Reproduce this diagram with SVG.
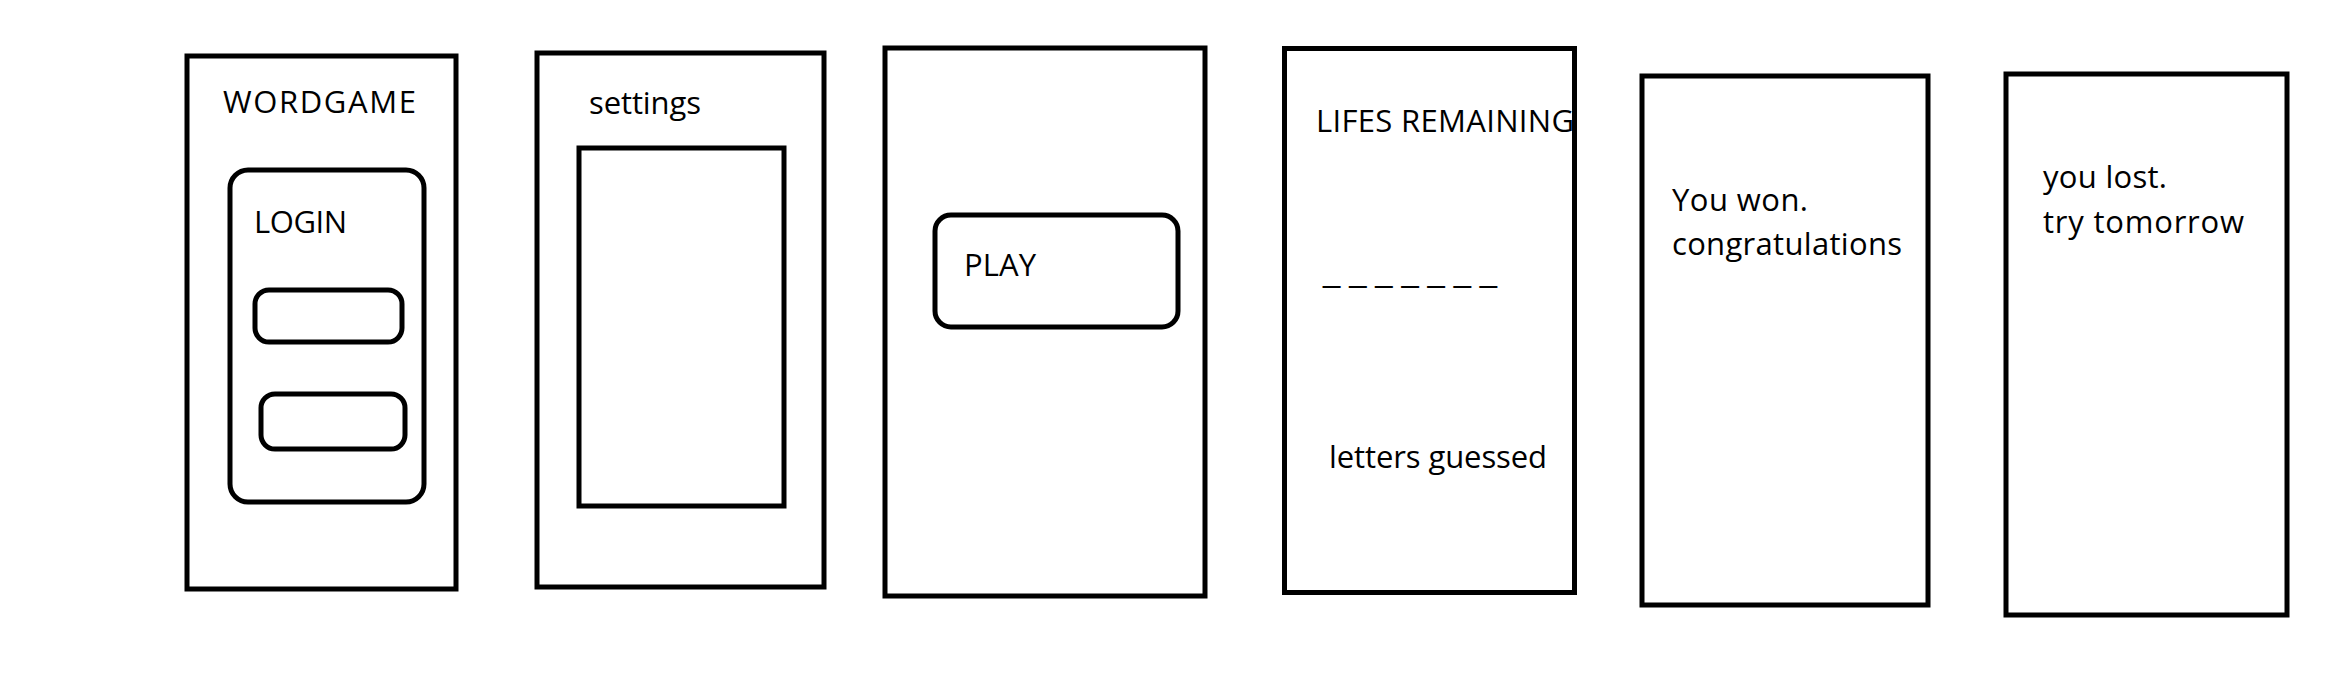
<svg xmlns="http://www.w3.org/2000/svg" width="2328" height="696" viewBox="0 0 2328 696">
<style>
  .frame { fill: none; stroke: #000; stroke-width: 5; }
  .box { fill: none; stroke: #000; stroke-width: 5; }
  .t { font-family: "Open Sans", Lato, "Liberation Sans", sans-serif; font-size: 31px; fill: #000; }
  .u { font-family: "Liberation Sans", Arial, sans-serif; font-size: 31px; fill: #000; }
</style>
<rect x="0" y="0" width="2328" height="696" fill="#fff"/>
<g id="connectors"/>
<g id="screen-login">
  <rect class="frame" x="187" y="56" width="269" height="533"/>
  <text class="t" x="223" y="113" textLength="193" lengthAdjust="spacing">WORDGAME</text>
  <rect class="box" x="230" y="170" width="194" height="332" rx="18" ry="18"/>
  <text class="t" x="254" y="233" textLength="93" lengthAdjust="spacing">LOGIN</text>
  <rect class="box" x="255" y="290" width="147" height="52" rx="14" ry="14"/>
  <rect class="box" x="261" y="394" width="144" height="55" rx="14" ry="14"/>
</g>
<g id="screen-settings">
  <rect class="frame" x="537" y="53" width="287" height="534"/>
  <text class="t" x="589" y="114" textLength="112" lengthAdjust="spacing">settings</text>
  <rect class="box" x="579" y="148" width="205" height="358"/>
</g>
<g id="screen-play">
  <rect class="frame" x="885" y="48" width="320" height="548"/>
  <rect class="box" x="935" y="215" width="243" height="112" rx="16" ry="16"/>
  <text class="t" x="964" y="276" textLength="72" lengthAdjust="spacing">PLAY</text>
</g>
<g id="screen-game">
  <text class="t" x="1316" y="132" textLength="258" lengthAdjust="spacing">LIFES REMAINING</text>
  <text class="u" x="1323" y="282" textLength="174" lengthAdjust="spacing">_ _ _ _ _ _ _</text>
  <text class="t" x="1329" y="468" textLength="218" lengthAdjust="spacing">letters guessed</text>
  <rect class="frame" x="1284.5" y="48.5" width="290" height="544"/>
</g>
<g id="screen-won">
  <rect class="frame" x="1642" y="76" width="286" height="529"/>
  <text class="t" x="1672" y="211" textLength="136" lengthAdjust="spacing">You won.</text>
  <text class="t" x="1672" y="255" textLength="230" lengthAdjust="spacing">congratulations</text>
</g>
<g id="screen-lost">
  <rect class="frame" x="2006" y="74" width="281" height="541"/>
  <text class="t" x="2043" y="188" textLength="124" lengthAdjust="spacing">you lost.</text>
  <text class="t" x="2043" y="233" textLength="201" lengthAdjust="spacing">try tomorrow</text>
</g>
</svg>
